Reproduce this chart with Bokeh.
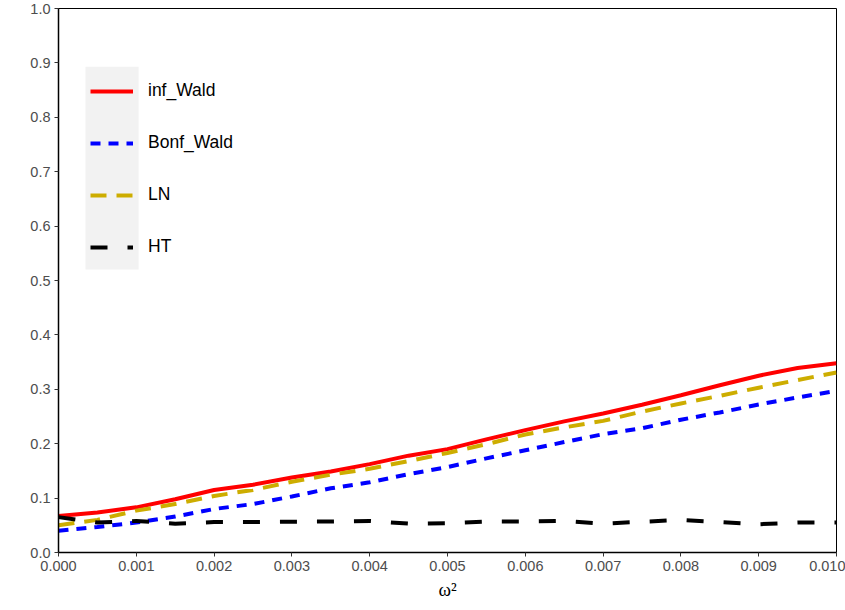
from bokeh.plotting import figure
from bokeh.models import (ColumnDataSource, FixedTicker, NumeralTickFormatter,
                          Legend, LegendItem, BoxAnnotation, Range1d)
from bokeh.embed import file_html
from bokeh.resources import INLINE

# ---- data ----
omega2 = [0.0, 0.0005, 0.001, 0.0015, 0.002, 0.0025, 0.003, 0.0035, 0.004, 0.0045,
          0.005, 0.0055, 0.006, 0.0065, 0.007, 0.0075, 0.008, 0.0085, 0.009, 0.0095, 0.01]
inf_wald = [0.067, 0.0735, 0.083, 0.098, 0.115, 0.1245, 0.138, 0.149, 0.1625, 0.178,
            0.19, 0.208, 0.225, 0.241, 0.2555, 0.2715, 0.289, 0.3075, 0.325, 0.339, 0.348]
bonf_wald = [0.040, 0.047, 0.055, 0.066, 0.080, 0.089, 0.103, 0.118, 0.129, 0.144,
             0.157, 0.173, 0.188, 0.203, 0.2175, 0.2285, 0.244, 0.2575, 0.272, 0.285, 0.297]
ln = [0.050, 0.060, 0.077, 0.089, 0.104, 0.115, 0.130, 0.143, 0.154, 0.168,
      0.183, 0.199, 0.217, 0.230, 0.242, 0.259, 0.274, 0.288, 0.303, 0.317, 0.331]
ht = [0.065, 0.055, 0.058, 0.053, 0.056, 0.056, 0.0565, 0.057, 0.058, 0.053,
      0.054, 0.057, 0.057, 0.058, 0.053, 0.0565, 0.060, 0.056, 0.052, 0.055, 0.055]

x_ticks = [0.0, 0.001, 0.002, 0.003, 0.004, 0.005, 0.006, 0.007, 0.008, 0.009, 0.01]
y_ticks = [0.0, 0.1, 0.2, 0.3, 0.4, 0.5, 0.6, 0.7, 0.8, 0.9, 1.0]

series_names = ["inf_Wald", "Bonf_Wald", "LN", "HT"]
series_values = [inf_wald, bonf_wald, ln, ht]
series_colors = ["#FF0000", "#0000FF", "#CDAD00", "#000000"]
series_dash = ["solid", "10 8", "16 10", "17 20"]

src = ColumnDataSource(dict(x=omega2, inf_Wald=inf_wald, Bonf_Wald=bonf_wald, LN=ln, HT=ht))

p = figure(width=845, height=610, output_backend="svg", toolbar_location=None,
           x_range=Range1d(0, 0.01), y_range=Range1d(0, 1),
           min_border_left=58, min_border_right=9, min_border_top=8, min_border_bottom=58)

p.background_fill_color = "white"
p.border_fill_color = "white"
p.outline_line_color = "black"
p.outline_line_width = 1
p.xgrid.visible = False
p.ygrid.visible = False

# legend background (only behind keys, like ggplot)
p.add_layout(BoxAnnotation(left=0.000347, right=0.00103, bottom=0.52, top=0.893,
                           fill_color="#F2F2F2", fill_alpha=1.0, line_alpha=0,
                           level="underlay"))

renderers = []
for name, vals, col, dash in zip(series_names, series_values, series_colors, series_dash):
    r = p.line("x", name, source=src, line_color=col, line_width=4,
               line_dash=dash, line_cap="butt")
    renderers.append(r)

legend = Legend(items=[LegendItem(label=n, renderers=[r]) for n, r in zip(series_names, renderers)],
                location=(32, 295), orientation="vertical",
                background_fill_alpha=0, border_line_alpha=0,
                glyph_width=43, glyph_height=20, label_height=20,
                label_standoff=15, spacing=31, padding=0, margin=0,
                label_text_font="Liberation Sans", label_text_font_size="17.5px",
                label_text_color="black")
p.add_layout(legend, "center")

for ax in (p.xaxis[0], p.yaxis[0]):
    ax.axis_line_color = "black"
    ax.axis_line_width = 1.5
    ax.major_tick_line_color = "#333333"
    ax.major_tick_line_width = 1
    ax.major_tick_out = 4
    ax.major_tick_in = 0
    ax.minor_tick_line_color = None
    ax.major_label_text_font = "Liberation Sans"
    ax.major_label_text_font_size = "14.5px"
    ax.major_label_text_color = "#4D4D4D"

p.xaxis.ticker = FixedTicker(ticks=x_ticks)
p.xaxis.formatter = NumeralTickFormatter(format="0.000")
p.xaxis.major_label_standoff = 4
p.xaxis.axis_label = "ω²"
p.xaxis.axis_label_text_font = "Liberation Serif"
p.xaxis.axis_label_text_font_style = "normal"
p.xaxis.axis_label_text_font_size = "19px"
p.xaxis.axis_label_text_color = "black"
p.xaxis.axis_label_standoff = 5

p.yaxis.ticker = FixedTicker(ticks=y_ticks)
p.yaxis.formatter = NumeralTickFormatter(format="0.0")
p.yaxis.major_label_standoff = 4

open("out.html", "w").write(file_html(p, INLINE))
